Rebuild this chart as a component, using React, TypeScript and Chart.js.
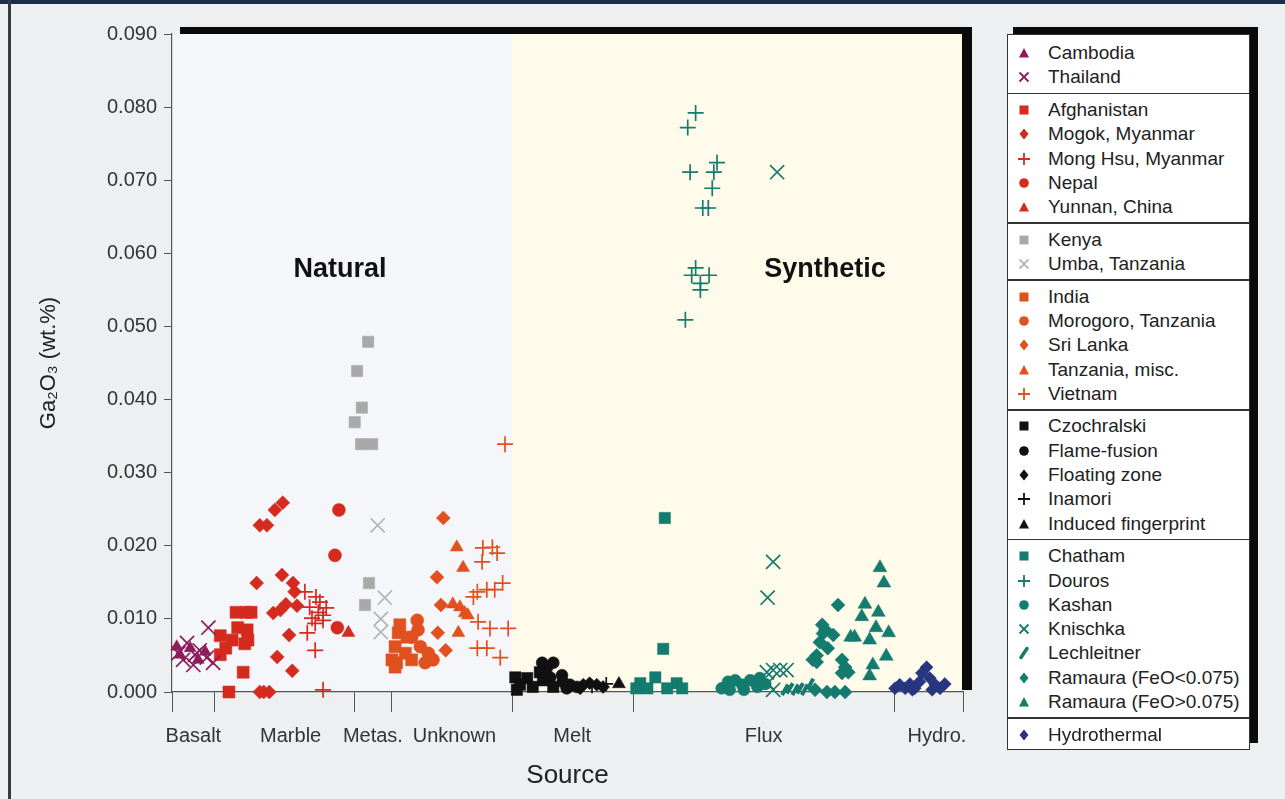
import React, { useEffect, useRef } from 'react';
import { Chart, registerables } from 'chart.js';

Chart.register(...registerables);

// ---------- data ----------
type Pt = [number, number]; // [position along source axis (0-100), Ga2O3 wt.%]

const CATEGORIES = ['Basalt', 'Marble', 'Metas.', 'Unknown', 'Melt', 'Flux', 'Hydro.'];
const CATEGORY_CENTERS = [2.7, 15.0, 25.4, 35.7, 50.6, 74.8, 96.7];
const CATEGORY_BOUNDS = [0, 5.4, 23.1, 27.7, 43.0, 58.3, 91.3, 100];
const SYNTHETIC_START = 43.0;
const Y_TICKS = [0, 0.01, 0.02, 0.03, 0.04, 0.05, 0.06, 0.07, 0.08, 0.09];

const cambodia: Pt[] = [[1.0, 0.0051], [2.3, 0.006], [3.3, 0.0044], [4.2, 0.0055], [0.6, 0.0062]];
const thailand: Pt[] = [[4.6, 0.0088], [1.9, 0.0067], [1.4, 0.0044], [3.5, 0.0057], [4.4, 0.0047], [5.2, 0.004], [2.7, 0.0037], [0.8, 0.0053], [2.9, 0.0051]];

const afghanistan: Pt[] = [[8.1, 0.0109], [9.4, 0.0109], [10.0, 0.0109], [6.1, 0.0077], [6.1, 0.0051], [7.6, 0.0071], [9.5, 0.0085], [9.2, 0.0066], [9.0, 0.0027], [7.2, 0.0], [6.8, 0.006], [8.3, 0.0088], [9.6, 0.0071]];
const mogok: Pt[] = [[11.1, 0.0228], [12.0, 0.0228], [13.0, 0.0249], [14.0, 0.0259], [10.7, 0.0149], [13.9, 0.016], [15.3, 0.0149], [15.5, 0.0137], [12.8, 0.0108], [13.7, 0.0112], [14.4, 0.012], [15.8, 0.0118], [14.8, 0.0078], [13.3, 0.0048], [15.2, 0.0029], [11.1, 0.0], [11.6, 0.0], [12.3, 0.0]];
const mongHsu: Pt[] = [[16.8, 0.0137], [18.2, 0.013], [18.7, 0.0123], [17.4, 0.0116], [18.5, 0.0109], [19.1, 0.0105], [17.7, 0.0101], [19.1, 0.0098], [18.1, 0.0094], [17.1, 0.0081], [18.1, 0.0057], [19.1, 0.0003], [19.5, 0.0115]];
const nepal: Pt[] = [[21.1, 0.0249], [20.6, 0.0187], [20.9, 0.0088]];
const yunnan: Pt[] = [[22.3, 0.0081]];

const kenya: Pt[] = [[24.8, 0.0479], [23.4, 0.0439], [24.0, 0.0389], [23.1, 0.0369], [23.9, 0.0339], [25.3, 0.0339], [24.9, 0.0149], [24.4, 0.0119]];
const umba: Pt[] = [[26.0, 0.0228], [26.9, 0.0129], [26.4, 0.01], [26.4, 0.0082]];

const india: Pt[] = [[28.6, 0.0081], [28.2, 0.0062], [27.8, 0.0044], [28.4, 0.004], [29.7, 0.0075], [29.5, 0.0053], [30.3, 0.0044], [28.8, 0.0092], [28.2, 0.0034]];
const morogoro: Pt[] = [[31.0, 0.0098], [31.4, 0.0062], [32.4, 0.0053], [33.0, 0.0044], [32.0, 0.004], [30.3, 0.0075], [31.1, 0.0085]];
const sriLanka: Pt[] = [[34.3, 0.0238], [33.5, 0.0157], [34.0, 0.0119], [33.6, 0.0081], [34.6, 0.0057]];
const tanzaniaMisc: Pt[] = [[36.0, 0.0198], [36.8, 0.017], [35.5, 0.012], [36.4, 0.0116], [37.0, 0.0108], [37.4, 0.0105], [36.2, 0.0081]];
const vietnam: Pt[] = [[42.1, 0.0339], [39.3, 0.0197], [40.5, 0.0198], [41.1, 0.019], [39.2, 0.0178], [38.6, 0.0137], [39.8, 0.014], [40.8, 0.014], [41.8, 0.0149], [38.1, 0.013], [38.7, 0.0096], [40.2, 0.0087], [42.5, 0.0087], [38.6, 0.006], [39.8, 0.006], [41.5, 0.0047]];

const czochralski: Pt[] = [[43.4, 0.002], [44.9, 0.0019], [44.0, 0.001], [46.9, 0.0016], [45.6, 0.0007], [48.2, 0.0007], [46.5, 0.0027], [43.6, 0.0003]];
const flameFusion: Pt[] = [[46.8, 0.004], [48.2, 0.004], [47.4, 0.0033], [49.3, 0.0023], [49.4, 0.0014], [50.3, 0.001], [51.2, 0.0007], [49.9, 0.0005], [47.8, 0.002]];
const floatingZone: Pt[] = [[52.0, 0.001], [52.8, 0.0012], [53.7, 0.001], [54.5, 0.0007], [51.6, 0.0005]];
const inamori: Pt[] = [[53.1, 0.0008], [54.9, 0.0011]];
const inducedFingerprint: Pt[] = [[56.5, 0.0011]];

const chatham: Pt[] = [[62.3, 0.0238], [62.1, 0.0059], [59.2, 0.0012], [61.1, 0.002], [63.8, 0.0012], [60.1, 0.0005], [62.6, 0.0005], [64.5, 0.0005], [58.7, 0.0005]];
const douros: Pt[] = [[66.2, 0.0792], [65.2, 0.0772], [65.5, 0.0711], [68.9, 0.0724], [68.5, 0.0711], [68.3, 0.0689], [67.8, 0.0662], [67.1, 0.0662], [66.2, 0.058], [65.7, 0.057], [67.9, 0.057], [66.8, 0.0559], [66.8, 0.055], [64.9, 0.0509]];
const kashan: Pt[] = [[69.5, 0.0005], [70.3, 0.0014], [71.2, 0.0016], [72.1, 0.001], [73.1, 0.0016], [74.0, 0.0007], [75.0, 0.0011], [70.5, 0.0003], [72.3, 0.0003], [74.3, 0.0019]];
const knischka: Pt[] = [[76.5, 0.0711], [76.0, 0.0178], [75.3, 0.0129], [75.2, 0.0027], [76.0, 0.003], [76.9, 0.003], [77.7, 0.003], [75.3, 0.0012], [76.0, 0.0003]];
const lechleitner: Pt[] = [[77.5, 0.0003], [78.1, 0.0005], [78.8, 0.0003], [79.4, 0.0005], [80.0, 0.0003], [80.7, 0.0011]];
const ramauraLow: Pt[] = [[84.2, 0.0119], [82.2, 0.0092], [82.3, 0.008], [83.6, 0.0078], [81.9, 0.0068], [82.9, 0.006], [81.5, 0.005], [81.0, 0.0044], [84.7, 0.0044], [85.1, 0.0034], [85.5, 0.0027], [84.7, 0.0026], [82.8, 0.0], [83.8, 0.0], [85.1, 0.0], [81.3, 0.0003], [82.6, 0.0085], [81.5, 0.0041]];
const ramauraHigh: Pt[] = [[89.5, 0.017], [90.0, 0.0149], [87.6, 0.012], [89.3, 0.0109], [87.2, 0.0103], [89.0, 0.0088], [90.6, 0.0081], [86.3, 0.0075], [88.2, 0.0071], [90.3, 0.0049], [88.6, 0.0037], [88.2, 0.0022], [85.8, 0.0075]];

const hydrothermal: Pt[] = [[91.4, 0.0005], [92.0, 0.001], [92.7, 0.0005], [93.3, 0.0011], [93.9, 0.0005], [94.5, 0.0014], [94.8, 0.0026], [95.4, 0.0034], [95.8, 0.0019], [96.5, 0.001], [97.1, 0.0005], [97.7, 0.0011], [93.6, 0.0003], [96.1, 0.0003]];

// ---------- styles ----------
const PURPLE = '#8c1c5c';
const RED = '#d52b1f';
const GRAY = '#a9a9a9';
const LIGHT_GRAY = '#b4b4b4';
const ORANGE = '#e1501f';
const BLACK = '#111111';
const TEAL = '#147b6f';
const NAVY = '#27367f';

const SANS = '"Liberation Sans", Arial, Helvetica, sans-serif';
const NARROW = '"Liberation Sans Narrow", "Liberation Sans", Arial, sans-serif';

type Style = 'rect' | 'rectRot' | 'circle' | 'triangle' | 'cross' | 'crossRot' | 'line';
interface SeriesDef { label: string; data: Pt[]; style: Style; color: string; r: number; group: number; }

const SERIES: SeriesDef[] = [
  { label: 'Cambodia', data: cambodia, style: 'triangle', color: PURPLE, r: 7, group: 0 },
  { label: 'Thailand', data: thailand, style: 'crossRot', color: PURPLE, r: 10, group: 0 },
  { label: 'Afghanistan', data: afghanistan, style: 'rect', color: RED, r: 8.5, group: 1 },
  { label: 'Mogok, Myanmar', data: mogok, style: 'rectRot', color: RED, r: 7, group: 1 },
  { label: 'Mong Hsu, Myanmar', data: mongHsu, style: 'cross', color: RED, r: 8, group: 1 },
  { label: 'Nepal', data: nepal, style: 'circle', color: RED, r: 6.5, group: 1 },
  { label: 'Yunnan, China', data: yunnan, style: 'triangle', color: RED, r: 7.5, group: 1 },
  { label: 'Kenya', data: kenya, style: 'rect', color: GRAY, r: 8, group: 2 },
  { label: 'Umba, Tanzania', data: umba, style: 'crossRot', color: LIGHT_GRAY, r: 10, group: 2 },
  { label: 'India', data: india, style: 'rect', color: ORANGE, r: 8.5, group: 3 },
  { label: 'Morogoro, Tanzania', data: morogoro, style: 'circle', color: ORANGE, r: 6.5, group: 3 },
  { label: 'Sri Lanka', data: sriLanka, style: 'rectRot', color: ORANGE, r: 7, group: 3 },
  { label: 'Tanzania, misc.', data: tanzaniaMisc, style: 'triangle', color: ORANGE, r: 7.5, group: 3 },
  { label: 'Vietnam', data: vietnam, style: 'cross', color: ORANGE, r: 8, group: 3 },
  { label: 'Czochralski', data: czochralski, style: 'rect', color: BLACK, r: 8, group: 4 },
  { label: 'Flame-fusion', data: flameFusion, style: 'circle', color: BLACK, r: 6, group: 4 },
  { label: 'Floating zone', data: floatingZone, style: 'rectRot', color: BLACK, r: 6.5, group: 4 },
  { label: 'Inamori', data: inamori, style: 'cross', color: BLACK, r: 7, group: 4 },
  { label: 'Induced fingerprint', data: inducedFingerprint, style: 'triangle', color: BLACK, r: 7.5, group: 4 },
  { label: 'Chatham', data: chatham, style: 'rect', color: TEAL, r: 8, group: 5 },
  { label: 'Douros', data: douros, style: 'cross', color: TEAL, r: 8, group: 5 },
  { label: 'Kashan', data: kashan, style: 'circle', color: TEAL, r: 6, group: 5 },
  { label: 'Knischka', data: knischka, style: 'crossRot', color: TEAL, r: 10, group: 5 },
  { label: 'Lechleitner', data: lechleitner, style: 'line', color: TEAL, r: 6, group: 5 },
  { label: 'Ramaura (FeO<0.075)', data: ramauraLow, style: 'rectRot', color: TEAL, r: 7, group: 5 },
  { label: 'Ramaura (FeO>0.075)', data: ramauraHigh, style: 'triangle', color: TEAL, r: 8, group: 5 },
  { label: 'Hydrothermal', data: hydrothermal, style: 'rectRot', color: NAVY, r: 6.5, group: 6 },
];

const NATURAL_BG = '#f5f6f9';
const SYNTH_BG = '#fffbea';

const framePlugin = {
  id: 'frame',
  beforeDraw(chart: any) {
    const { ctx, chartArea } = chart;
    const { left, top, right, bottom } = chartArea;
    const x = chart.scales.x;
    ctx.save();
    ctx.fillStyle = '#0a0a0a';
    ctx.fillRect(left + 8, top - 7, right - left, 7);
    ctx.fillRect(right - 1, top - 7, 10, bottom - top + 5);
    const split = x.getPixelForValue(SYNTHETIC_START);
    ctx.fillStyle = NATURAL_BG;
    ctx.fillRect(left, top, split - left, bottom - top);
    ctx.fillStyle = SYNTH_BG;
    ctx.fillRect(split, top, right - 1 - split, bottom - top);
    ctx.restore();
  },
};

function Marker({ style, color }: { style: Style; color: string }) {
  let el: any = null;
  switch (style) {
    case 'rect':
      el = <rect x={2.5} y={2.5} width={9} height={9} fill={color} />;
      break;
    case 'rectRot':
      el = <polygon points="7,1.5 11.5,7 7,12.5 2.5,7" fill={color} />;
      break;
    case 'circle':
      el = <circle cx={7} cy={7} r={4.8} fill={color} />;
      break;
    case 'triangle':
      el = <polygon points="7,2 12,11.5 2,11.5" fill={color} />;
      break;
    case 'cross':
      el = <path d="M7 1 V13 M1 7 H13" stroke={color} strokeWidth={1.8} fill="none" />;
      break;
    case 'crossRot':
      el = <path d="M2.5 2.5 L11.5 11.5 M11.5 2.5 L2.5 11.5" stroke={color} strokeWidth={1.8} fill="none" />;
      break;
    case 'line':
      el = <line x1={4} y1={11.5} x2={10} y2={2.5} stroke={color} strokeWidth={3.5} strokeLinecap="round" />;
      break;
  }
  return (
    <svg width={14} height={14} style={{ position: 'absolute', left: 9, top: -7 }}>
      {el}
    </svg>
  );
}

function Legend() {
  const rows: any[] = [];
  const seps: number[] = [];
  const rowY = (i: number, g: number) => 52 + i * 24.3 + g * 8.3;
  SERIES.forEach((s, i) => {
    const y = rowY(i, s.group) - 34;
    rows.push(
      <div key={s.label} style={{ position: 'absolute', left: 0, top: y, height: 0 }}>
        <Marker style={s.style} color={s.color === LIGHT_GRAY ? '#b8b8b8' : s.color} />
        <div
          style={{
            position: 'absolute',
            left: 40,
            top: -12,
            whiteSpace: 'nowrap',
            font: `19px ${SANS}`,
            lineHeight: '24px',
            color: '#222',
          }}
        >
          {s.label}
        </div>
      </div>
    );
    if (i > 0 && SERIES[i - 1].group !== s.group) {
      seps.push((rowY(i - 1, SERIES[i - 1].group) + rowY(i, s.group)) / 2 - 34);
    }
  });
  return (
    <>
      <div style={{ position: 'absolute', left: 1013, top: 27, width: 245, height: 716, background: '#0a0a0a' }} />
      <div
        style={{
          position: 'absolute',
          left: 1007,
          top: 34,
          width: 243,
          height: 716,
          background: '#ffffff',
          border: '1.5px solid #333',
          boxSizing: 'border-box',
        }}
      >
        {seps.map((y, k) => (
          <div key={k} style={{ position: 'absolute', left: 0, right: 0, top: y - 1, height: 1.5, background: '#333' }} />
        ))}
        {rows}
      </div>
    </>
  );
}

export default function App() {
  const canvasRef = useRef<HTMLCanvasElement | null>(null);

  useEffect(() => {
    const canvas = canvasRef.current;
    if (!canvas) return;
    const chart = new Chart(canvas, {
      type: 'scatter',
      data: {
        datasets: SERIES.map((s) => ({
          label: s.label,
          data: s.data.map(([x, y]) => ({ x, y })),
          pointStyle: s.style,
          pointRadius: s.r,
          pointHoverRadius: s.r,
          pointBackgroundColor: s.color,
          pointBorderColor: s.color,
          backgroundColor: s.color,
          borderColor: s.color,
          pointBorderWidth: s.style === 'cross' || s.style === 'crossRot' ? 1.7 : s.style === 'line' ? 4 : 0.5,
          pointRotation: s.style === 'line' ? -60 : 0,
          showLine: false,
          clip: false,
        })) as any,
      },
      options: {
        animation: false,
        responsive: false,
        events: [],
        layout: { padding: { left: 0, top: 34, right: 322, bottom: 0 } },
        plugins: { legend: { display: false }, tooltip: { enabled: false }, title: { display: false } },
        scales: {
          x: {
            type: 'linear',
            position: 'bottom',
            min: 0,
            max: 100,
            afterBuildTicks: (s: any) => {
              s.ticks = CATEGORY_BOUNDS.map((v) => ({ value: v }));
            },
            afterFit: (s: any) => {
              s.height = 22;
            },
            ticks: { display: false },
            grid: { display: true, drawOnChartArea: false, drawTicks: true, tickLength: 20, color: '#555', lineWidth: 1 },
            border: { display: true, color: '#555', width: 1.2 },
          },
          xl: {
            type: 'linear',
            position: 'bottom',
            min: 0,
            max: 100,
            afterBuildTicks: (s: any) => {
              s.ticks = CATEGORY_CENTERS.map((v) => ({ value: v }));
            },
            afterFit: (s: any) => {
              s.height = 85;
            },
            grid: { display: false, drawTicks: false },
            border: { display: false },
            ticks: {
              autoSkip: false,
              maxRotation: 0,
              padding: 10,
              font: { family: NARROW, size: 20 },
              color: '#333',
              callback: (_v: any, i: number) => CATEGORIES[i],
            },
            title: {
              display: true,
              text: 'Source',
              font: { family: SANS, size: 26 },
              color: '#222',
              padding: { top: 0, bottom: 8 },
            },
          },
          y: {
            type: 'linear',
            min: 0,
            max: 0.09,
            afterBuildTicks: (s: any) => {
              s.ticks = Y_TICKS.map((v) => ({ value: v }));
            },
            afterFit: (s: any) => {
              s.width = 172;
            },
            ticks: {
              font: { family: SANS, size: 20 },
              color: '#333',
              padding: 7,
              callback: (v: any) => Number(v).toFixed(3),
            },
            grid: { display: true, drawOnChartArea: false, drawTicks: true, tickLength: 8, color: '#555', lineWidth: 1 },
            border: { display: true, color: '#555', width: 1.2 },
            title: {
              display: true,
              text: 'Ga₂O₃ (wt.%)',
              font: { family: SANS, size: 22 },
              color: '#222',
              padding: { top: 36, bottom: 0 },
            },
          },
        },
      } as any,
      plugins: [framePlugin],
    });
    return () => chart.destroy();
  }, []);

  return (
    <div
      style={{
        position: 'fixed',
        left: 0,
        top: 0,
        width: 1285,
        height: 799,
        background: '#eeeff0',
        overflow: 'hidden',
      }}
    >
      <div style={{ position: 'absolute', left: 0, top: 0, width: 1285, height: 4, background: '#1d2b4c' }} />
      <div style={{ position: 'absolute', left: 8, top: 0, width: 3, height: 799, background: '#3a3a3a' }} />
      <canvas ref={canvasRef} width={1285} height={799} style={{ position: 'absolute', left: 0, top: 0, width: 1285, height: 799 }} />
      <div
        style={{
          position: 'absolute',
          left: 340,
          top: 268,
          transform: 'translate(-50%, -50%)',
          font: `bold 27px ${SANS}`,
          color: '#111',
          whiteSpace: 'nowrap',
        }}
      >
        Natural
      </div>
      <div
        style={{
          position: 'absolute',
          left: 825,
          top: 268,
          transform: 'translate(-50%, -50%)',
          font: `bold 27px ${SANS}`,
          color: '#111',
          whiteSpace: 'nowrap',
        }}
      >
        Synthetic
      </div>
      <Legend />
    </div>
  );
}
